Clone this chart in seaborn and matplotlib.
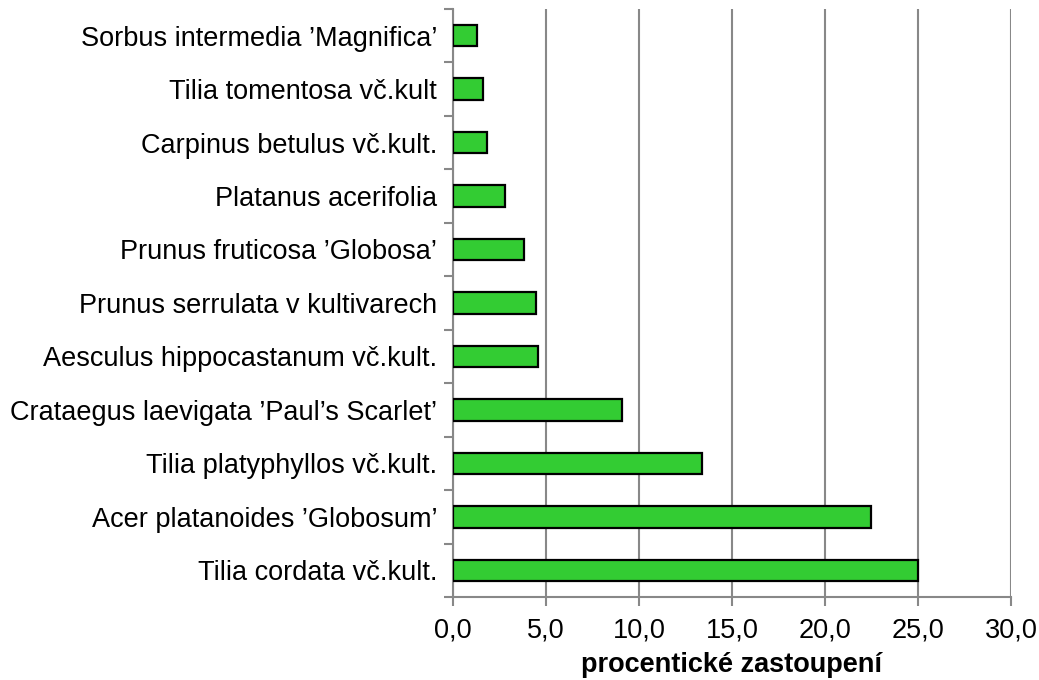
import matplotlib
matplotlib.use("Agg")
import matplotlib.pyplot as plt
import seaborn as sns
import pandas as pd
from matplotlib.ticker import FixedLocator, FuncFormatter

categories = [
    "Sorbus intermedia \u2019Magnifica\u2019",
    "Tilia tomentosa vč.kult",
    "Carpinus betulus vč.kult.",
    "Platanus acerifolia",
    "Prunus fruticosa \u2019Globosa\u2019",
    "Prunus serrulata v kultivarech",
    "Aesculus hippocastanum vč.kult.",
    "Crataegus laevigata \u2019Paul\u2019s Scarlet\u2019",
    "Tilia platyphyllos vč.kult.",
    "Acer platanoides \u2019Globosum\u2019",
    "Tilia cordata vč.kult.",
]
values = [1.31, 1.62, 1.82, 2.81, 3.80, 4.46, 4.55, 9.09, 13.4, 22.5, 25.0]
xticks = [0, 5, 10, 15, 20, 25, 30]
xlabel = "procentické zastoupení"

sns.set_theme(style="white")
plt.rcParams["font.family"] = ["Liberation Sans", "DejaVu Sans"]

df = pd.DataFrame({"cat": categories, "val": values})

fig = plt.figure(figsize=(10.39, 6.80), dpi=100)
ax = fig.add_axes([0.436, 0.122, 0.973 - 0.436, 0.987 - 0.122])

sns.barplot(data=df, x="val", y="cat", orient="h", color="#33CC33",
            saturation=1, edgecolor="black", linewidth=1.6, width=0.4, ax=ax, zorder=3)

ax.set_xlim(0, 30)
ax.set_ylim(len(categories) - 0.5, -0.5)
ax.xaxis.set_major_locator(FixedLocator(xticks))
ax.xaxis.set_major_formatter(FuncFormatter(lambda v, p: f"{v:.1f}".replace(".", ",")))
ax.grid(axis="x", color="#888888", linewidth=1.5, zorder=0)
ax.set_axisbelow(True)

for s in ["top", "right"]:
    ax.spines[s].set_visible(False)
for s in ["left", "bottom"]:
    ax.spines[s].set_color("#888888")
    ax.spines[s].set_linewidth(1.5)

fs = 19.5
ax.yaxis.set_minor_locator(FixedLocator([i - 0.5 for i in range(len(categories) + 1)]))
ax.tick_params(axis="y", which="major", length=0, pad=11.5, labelsize=fs, labelcolor="black")
ax.tick_params(axis="y", which="minor", left=True, length=6.5, width=1.5, color="#888888")
ax.tick_params(axis="x", which="major", bottom=True, length=6.5, width=1.5, color="#888888",
               pad=8, labelsize=fs, labelcolor="black")

ax.set_ylabel("")
ax.set_xlabel(xlabel, fontsize=fs, fontweight="bold", color="black", labelpad=6.3)

fig.savefig("out.png", dpi=100)
